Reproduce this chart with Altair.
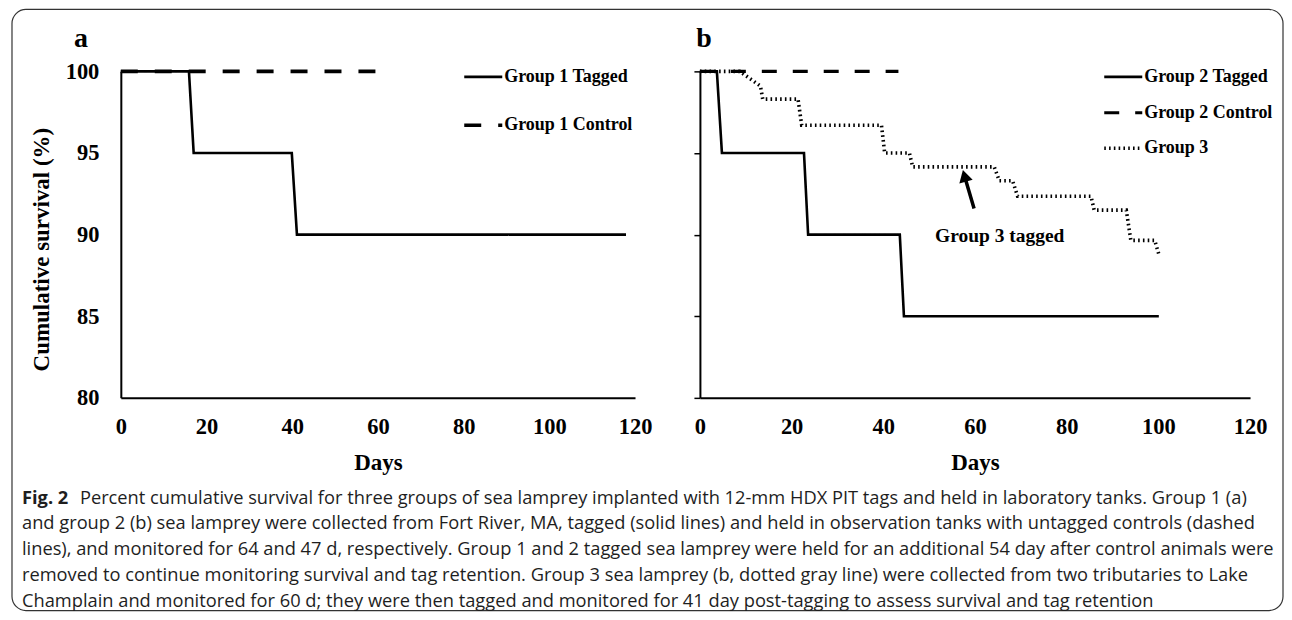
import altair as alt
import pandas as pd

SERIF = "Liberation Serif"
SANS = "Open Sans"

# ---------------- data ----------------
X_TICKS = [0, 20, 40, 60, 80, 100, 120]
Y_TICKS = [80, 85, 90, 95, 100]

SERIES_A = ["Group 1 Tagged", "Group 1 Control"]
G1_TAGGED_DAY = [0, 15.9, 17.0, 39.9, 41.1, 117.9]
G1_TAGGED_SURV = [100, 100, 95, 95, 90, 90]
G1_CONTROL_DAY = [0, 61.1]
G1_CONTROL_SURV = [100, 100]

SERIES_B = ["Group 2 Tagged", "Group 2 Control", "Group 3"]
G2_TAGGED_DAY = [0, 3.7, 4.8, 22.7, 23.6, 43.6, 44.5, 100.1]
G2_TAGGED_SURV = [100, 100, 95, 95, 90, 90, 85, 85]
G2_CONTROL_DAY = [0, 43.3]
G2_CONTROL_SURV = [100, 100]
G3_DAY = [0, 8.7, 13.2, 13.7, 21.4, 22.2, 39.6, 40.3, 45.7, 46.4, 64.2,
          65.3, 68.2, 69.3, 85.3, 86.0, 93.0, 94.0, 99.2, 100.1]
G3_SURV = [100, 100, 99.1, 98.3, 98.3, 96.7, 96.7, 95.0, 95.0, 94.15, 94.15,
           93.3, 93.3, 92.35, 92.35, 91.5, 91.5, 89.65, 89.65, 88.8]

ARROW_TAIL_DAY, ARROW_TAIL_SURV = 59.8, 91.6
ARROW_HEAD_DAY, ARROW_HEAD_SURV = 57.7, 93.6
ANNOT_DAY, ANNOT_SURV = 65.4, 89.9
ANNOT_TEXT = "Group 3 tagged"

PANEL_LABELS = ["a", "b"]

CAPTION_BOLD = "Fig. 2"
CAPTION_LINES = [
    "Percent cumulative survival for three groups of sea lamprey implanted with 12-mm HDX PIT tags and held in laboratory tanks. Group 1 (a)",
    "and group 2 (b) sea lamprey were collected from Fort River, MA, tagged (solid lines) and held in observation tanks with untagged controls (dashed",
    "lines), and monitored for 64 and 47 d, respectively. Group 1 and 2 tagged sea lamprey were held for an additional 54 day after control animals were",
    "removed to continue monitoring survival and tag retention. Group 3 sea lamprey (b, dotted gray line) were collected from two tributaries to Lake",
    "Champlain and monitored for 60 d; they were then tagged and monitored for 41 day post-tagging to assess survival and tag retention",
]


def long_df(names, days, survs):
    rows = []
    for n, d, s in zip(names, days, survs):
        for i, (x, y) in enumerate(zip(d, s)):
            rows.append({"series": n, "day": x, "surv": y, "idx": i})
    return pd.DataFrame(rows)


df_a = long_df(SERIES_A, [G1_TAGGED_DAY, G1_CONTROL_DAY], [G1_TAGGED_SURV, G1_CONTROL_SURV])
df_b = long_df(SERIES_B, [G2_TAGGED_DAY, G2_CONTROL_DAY, G3_DAY],
               [G2_TAGGED_SURV, G2_CONTROL_SURV, G3_SURV])

PW_A, PW_B, PH = 515, 551, 327
CAP_FONT = 18.3

x_scale = alt.Scale(domain=[0, 120], nice=False)
y_scale = alt.Scale(domain=[80, 100], nice=False, zero=False)


def x_axis():
    return alt.Axis(values=X_TICKS, title="Days", ticks=False, labelPadding=18,
                    titlePadding=13, labelFlush=False, labelOverlap=False,
                    domainWidth=2, labelFontSize=22.5, titleFontSize=23)


def legend(lx, rowpad):
    return alt.Legend(title=None, orient="none", legendX=lx, legendY=-15,
                      symbolType="stroke", symbolSize=1450, symbolStrokeWidth=2.8,
                      symbolStrokeColor="black", labelFont=SERIF,
                      labelFontWeight="bold", labelFontSize=18, labelColor="black",
                      labelOffset=0, rowPadding=rowpad, padding=0)


def panel_label(text, px):
    return alt.Chart(alt.Data(values=[{"t": text}])).mark_text(
        font=SERIF, fontWeight="bold", fontSize=28, color="black",
        align="center", baseline="middle"
    ).encode(x=alt.value(px), y=alt.value(-32), text="t:N")


lines_a = alt.Chart(df_a).mark_line(color="black", strokeCap="butt").encode(
    x=alt.X("day:Q", scale=x_scale, axis=x_axis()),
    y=alt.Y("surv:Q", scale=y_scale,
            axis=alt.Axis(values=Y_TICKS, title="Cumulative survival (%)", ticks=False,
                          labelPadding=22, titlePadding=12, titleY=178, domainWidth=2,
                          labelFontSize=22.5, titleFontSize=23)),
    strokeDash=alt.StrokeDash("series:N",
                              scale=alt.Scale(domain=SERIES_A, range=[[1, 0], [17, 17]]),
                              legend=legend(342, 18)),
    strokeWidth=alt.StrokeWidth("series:N",
                                scale=alt.Scale(domain=SERIES_A, range=[2.6, 3.6]),
                                legend=None),
    order=alt.Order("idx:Q"),
)

# outer rounded frame of the figure
frame = alt.Chart(alt.Data(values=[{"k": 1}])).mark_rect(
    fillOpacity=0, stroke="#333333", strokeWidth=1.2, cornerRadius=14
).encode(x=alt.value(-109), x2=alt.value(1164), y=alt.value(-62), y2=alt.value(540))

# caption (figure legend text) below the panels
cap_df = pd.DataFrame({"line": list(range(len(CAPTION_LINES))), "text": CAPTION_LINES})
cap_y = alt.Y("line:Q", axis=None,
              scale=alt.Scale(domain=[0, len(CAPTION_LINES) - 1], range=[428, 531]))
cap_rest = alt.Chart(cap_df).transform_filter("datum.line > 0").mark_text(
    align="left", baseline="middle", font=SANS, fontSize=CAP_FONT, color="#1e1e1e"
).encode(x=alt.value(-99), y=cap_y, text="text:N")
cap_first = alt.Chart(cap_df).transform_filter("datum.line == 0").mark_text(
    align="left", baseline="middle", font=SANS, fontSize=CAP_FONT, color="#1e1e1e", dx=58
).encode(x=alt.value(-99), y=cap_y, text="text:N")
cap_bold = alt.Chart(alt.Data(values=[{"line": 0, "text": CAPTION_BOLD}])).mark_text(
    align="left", baseline="middle", font=SANS, fontSize=CAP_FONT, fontWeight="bold",
    color="#1e1e1e"
).encode(x=alt.value(-99), y=cap_y, text="text:N")

panel_a = alt.layer(lines_a, frame, panel_label(PANEL_LABELS[0], -40),
                    cap_rest, cap_first, cap_bold).resolve_scale(
    y="independent").properties(width=PW_A, height=PH)

lines_b = alt.Chart(df_b).mark_line(color="black", strokeCap="butt").encode(
    x=alt.X("day:Q", scale=x_scale, axis=x_axis()),
    y=alt.Y("surv:Q", scale=y_scale,
            axis=alt.Axis(values=Y_TICKS, title=None, labels=False, ticks=True,
                          tickSize=6, tickWidth=1.5, tickColor="black", domainWidth=2)),
    strokeDash=alt.StrokeDash("series:N",
                              scale=alt.Scale(domain=SERIES_B,
                                              range=[[1, 0], [15, 16], [1.6, 3.2]]),
                              legend=legend(403, 5.5)),
    strokeWidth=alt.StrokeWidth("series:N",
                                scale=alt.Scale(domain=SERIES_B, range=[2.6, 3.6, 1.6]),
                                legend=None),
    order=alt.Order("idx:Q"),
)

arrow_df = pd.DataFrame({"x": [ARROW_TAIL_DAY], "y": [ARROW_TAIL_SURV],
                         "x2": [ARROW_HEAD_DAY], "y2": [ARROW_HEAD_SURV]})
arrow = alt.Chart(arrow_df).mark_rule(color="black", strokeWidth=3.5).encode(
    x="x:Q", y="y:Q", x2="x2:Q", y2="y2:Q")
head = alt.Chart(arrow_df).mark_point(shape="triangle-up", filled=True, color="black",
                                      size=190, angle=345, opacity=1).encode(
    x="x2:Q", y="y2:Q")
annot_df = pd.DataFrame({"x": [ANNOT_DAY], "y": [ANNOT_SURV], "t": [ANNOT_TEXT]})
annot = alt.Chart(annot_df).mark_text(font=SERIF, fontWeight="bold", fontSize=19.5,
                                      color="black").encode(
    x="x:Q", y="y:Q", text="t:N")

panel_b = alt.layer(lines_b, arrow, head, annot, panel_label(PANEL_LABELS[1], 4)).properties(
    width=PW_B, height=PH)

chart = alt.hconcat(panel_a, panel_b, spacing=65, bounds="flush").resolve_scale(
    strokeDash="independent", strokeWidth="independent", x="independent", y="independent"
).resolve_legend(strokeDash="independent").properties(
    padding={"left": 3, "top": 0, "right": 0, "bottom": 0}
).configure_view(stroke=None).configure_axis(
    labelFont=SERIF, labelFontWeight="bold", labelColor="black",
    titleFont=SERIF, titleFontWeight="bold", titleColor="black",
    domainColor="black", grid=False,
)

chart.save("out.html", embed_options={"renderer": "svg", "actions": False})
